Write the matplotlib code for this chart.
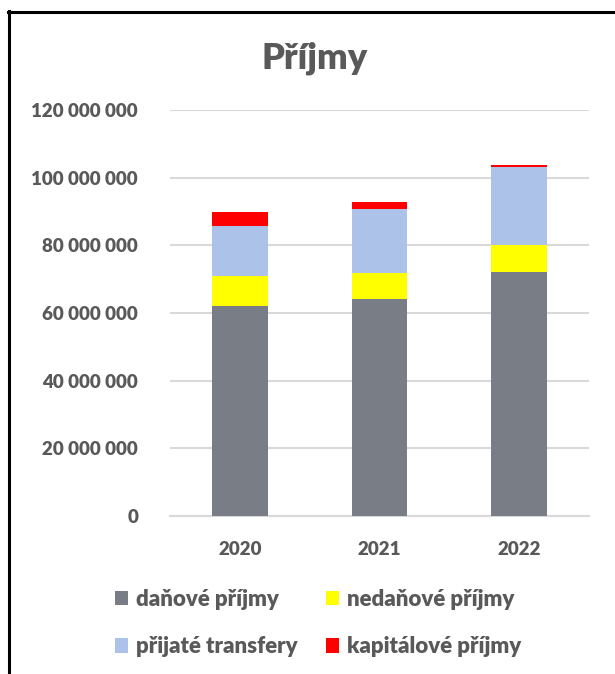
import matplotlib
matplotlib.use("Agg")
import matplotlib.pyplot as plt
from matplotlib.lines import Line2D
import numpy as np

years = ["2020", "2021", "2022"]
danove = [62.1e6, 64.0e6, 72.0e6]
nedanove = [8.9e6, 7.8e6, 8.1e6]
transfery = [14.8e6, 18.9e6, 23.2e6]
kapitalove = [4.1e6, 2.2e6, 0.5e6]
series_names = ["daňové příjmy", "nedaňové příjmy", "přijaté transfery", "kapitálové příjmy"]
colors = ["#797d86", "#ffff00", "#adc2e8", "#ff0000"]
yticks = [0, 20e6, 40e6, 60e6, 80e6, 100e6, 120e6]

plt.rcParams['font.family'] = ['Lato', 'DejaVu Sans']
txt = "#595959"

W, H = 615, 674
fig = plt.figure(figsize=(W/100, H/100), dpi=100)
ax = fig.add_axes([170/W, 1-516/H, (589-170)/W, (516-110)/H])

x = np.arange(len(years))
bottom = np.zeros(len(years))
handles = []
for vals, c, n in zip([danove, nedanove, transfery, kapitalove], colors, series_names):
    b = ax.bar(x, vals, width=0.4, bottom=bottom, color=c, label=n, zorder=3)
    handles.append(b)
    bottom = bottom + np.array(vals)

ax.set_xlim(-0.5, 2.5)
ax.set_ylim(0, 120e6)
ax.set_yticks(yticks)
ax.set_yticklabels([f"{int(v):,}".replace(",", " ") for v in yticks])
ax.set_xticks(x)
ax.set_xticklabels(years)
ax.grid(axis='y', color='#d9d9d9', linewidth=1.5, zorder=0)
for s in ['top', 'right', 'left']:
    ax.spines[s].set_visible(False)
ax.spines['bottom'].set_color('#d9d9d9')
ax.spines['bottom'].set_linewidth(1.5)
ax.tick_params(axis='both', length=0, labelsize=13.5, labelcolor=txt)
ax.tick_params(axis='x', pad=18)
ax.tick_params(axis='y', pad=23)
for lab in ax.get_xticklabels() + ax.get_yticklabels():
    lab.set_fontweight('heavy')

fig.text(315/W, 1-58/H, "Příjmy", ha='center', va='center', fontsize=26,
         fontweight='heavy', color=txt)

order = [0, 2, 1, 3]
leg = fig.legend([handles[i] for i in order], [series_names[i] for i in order],
                 ncol=2, loc='center', bbox_to_anchor=(318/W, 1-623/H),
                 frameon=False, handlelength=0.6, handleheight=0.6,
                 handletextpad=0.35, columnspacing=1.25, labelspacing=1.2,
                 prop={'weight': 'heavy', 'size': 16})
for t in leg.get_texts():
    t.set_color(txt)

fig.add_artist(Line2D([9/W, 9/W], [0, 1-11/H], transform=fig.transFigure,
                      color='black', linewidth=2.2))
fig.add_artist(Line2D([8/W, 1], [1-11.5/H, 1-11.5/H], transform=fig.transFigure,
                      color='black', linewidth=2.2))

fig.savefig("out.png", dpi=100, facecolor='white')
